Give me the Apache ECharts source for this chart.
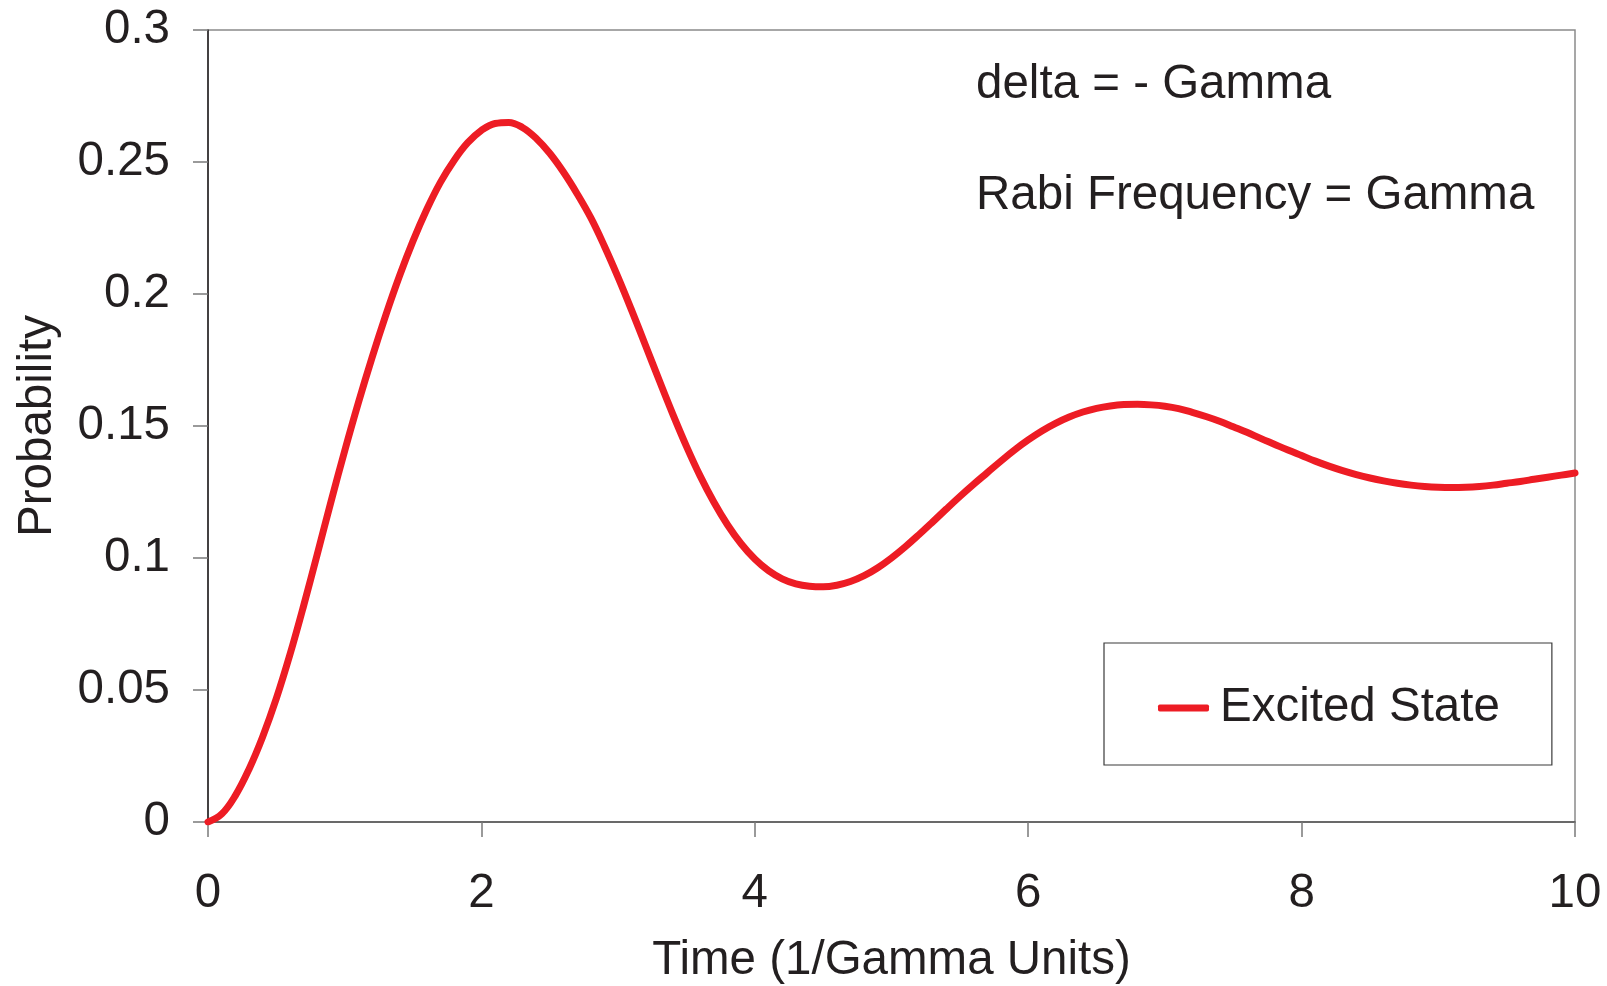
<!DOCTYPE html>
<html>
<head>
<meta charset="utf-8">
<title>Excited State Probability</title>
<script src="https://cdn.jsdelivr.net/npm/echarts@6/dist/echarts.min.js"></script>
<style>
  html, body { margin: 0; padding: 0; background: #ffffff; }
  #chart { width: 1607px; height: 986px; }
</style>
</head>
<body>
<div id="chart"></div>
<script>
// Time in units of 1/Gamma
const timeValues = [
  0.0, 0.1, 0.2, 0.3, 0.4, 0.5, 0.6, 0.7, 0.8, 0.9,
  1.0, 1.1, 1.2, 1.3, 1.4, 1.5, 1.6, 1.7, 1.8, 1.9,
  2.0, 2.1, 2.2, 2.3, 2.4, 2.5, 2.6, 2.7, 2.8, 2.9,
  3.0, 3.1, 3.2, 3.3, 3.4, 3.5, 3.6, 3.7, 3.8, 3.9,
  4.0, 4.1, 4.2, 4.3, 4.4, 4.5, 4.6, 4.7, 4.8, 4.9,
  5.0, 5.1, 5.2, 5.3, 5.4, 5.5, 5.6, 5.7, 5.8, 5.9,
  6.0, 6.1, 6.2, 6.3, 6.4, 6.5, 6.6, 6.7, 6.8, 6.9,
  7.0, 7.1, 7.2, 7.3, 7.4, 7.5, 7.6, 7.7, 7.8, 7.9,
  8.0, 8.1, 8.2, 8.3, 8.4, 8.5, 8.6, 8.7, 8.8, 8.9,
  9.0, 9.1, 9.2, 9.3, 9.4, 9.5, 9.6, 9.7, 9.8, 9.9,
  10.0
];

// Excited state population
const excitedState = [
  0.0000, 0.0030, 0.0100, 0.0200, 0.0323, 0.0468, 0.0635, 0.0820, 0.1016, 0.1214,
  0.1406, 0.1588, 0.1759, 0.1919, 0.2067, 0.2201, 0.2320, 0.2423, 0.2506, 0.2573,
  0.2620, 0.2646, 0.2650, 0.2631, 0.2590, 0.2533, 0.2462, 0.2380, 0.2289, 0.2181,
  0.2063, 0.1937, 0.1806, 0.1674, 0.1545, 0.1423, 0.1311, 0.1212, 0.1126, 0.1054,
  0.0996, 0.0952, 0.0921, 0.0902, 0.0893, 0.0891, 0.0897, 0.0911, 0.0933, 0.0963,
  0.1000, 0.1042, 0.1088, 0.1136, 0.1185, 0.1233, 0.1279, 0.1323, 0.1367, 0.1409,
  0.1447, 0.1481, 0.1510, 0.1534, 0.1553, 0.1567, 0.1576, 0.1581, 0.1582, 0.1580,
  0.1575, 0.1566, 0.1552, 0.1536, 0.1518, 0.1497, 0.1476, 0.1453, 0.1431, 0.1409,
  0.1388, 0.1367, 0.1348, 0.1331, 0.1316, 0.1303, 0.1292, 0.1283, 0.1276, 0.1271,
  0.1268, 0.1267, 0.1268, 0.1271, 0.1276, 0.1283, 0.1290, 0.1298, 0.1306, 0.1314,
  0.1322
];

const xTicks = [0, 2, 4, 6, 8, 10];
const yTicks = [0, 0.05, 0.1, 0.15, 0.2, 0.25, 0.3];

const seriesName = 'Excited State';
const xTitle = 'Time (1/Gamma Units)';
const yTitle = 'Probability';
const noteLines = ['delta = - Gamma', 'Rabi Frequency = Gamma'];

const FONT = '"Liberation Sans", Arial, Helvetica, sans-serif';
const TEXT = '#231f20';
const RED = '#ed1c24';

const chart = echarts.init(document.getElementById('chart'), null, { renderer: 'canvas' });

const points = timeValues.map((t, i) => [t, excitedState[i]]);

chart.setOption({
  animation: false,
  backgroundColor: '#ffffff',
  textStyle: { fontFamily: FONT, color: TEXT },
  grid: {
    left: 208, right: 32, top: 30, bottom: 164,
    containLabel: false,
    outerBoundsMode: 'none',
    show: true, borderColor: '#8a8a8a', borderWidth: 1.5,
    backgroundColor: 'transparent'
  },
  xAxis: {
    type: 'value',
    min: xTicks[0], max: xTicks[xTicks.length - 1], interval: 2,
    name: xTitle, nameLocation: 'middle', nameGap: 115,
    nameTextStyle: { fontSize: 47.5, color: TEXT, fontFamily: FONT },
    axisLine: { show: true, lineStyle: { color: '#555555', width: 1.5 } },
    axisTick: { show: true, inside: false, length: 15, lineStyle: { color: '#7a7a7a', width: 1.5 } },
    axisLabel: { fontSize: 47.5, color: TEXT, fontFamily: FONT, margin: 48 },
    splitLine: { show: false }
  },
  yAxis: {
    type: 'value',
    min: yTicks[0], max: yTicks[yTicks.length - 1], interval: 0.05,
    name: yTitle, nameLocation: 'middle', nameGap: 146, nameRotate: 90,
    nameTextStyle: { fontSize: 47.5, color: TEXT, fontFamily: FONT },
    axisLine: { show: true, lineStyle: { color: '#231f20', width: 1.5 } },
    axisTick: { show: true, inside: false, length: 15, lineStyle: { color: '#7a7a7a', width: 1.5 } },
    axisLabel: {
      fontSize: 47.5, color: TEXT, fontFamily: FONT, margin: 38,
      formatter: v => String(Math.round(v * 100) / 100)
    },
    splitLine: { show: false }
  },
  legend: {
    data: [seriesName],
    left: 1104, top: 643,
    orient: 'vertical',
    icon: 'roundRect',
    itemWidth: 51, itemHeight: 7,
    padding: [41, 52, 33, 54],
    borderColor: '#3a3a3a', borderWidth: 1.2,
    backgroundColor: '#ffffff',
    textStyle: { fontSize: 47.5, color: TEXT, fontFamily: FONT, padding: [0, 0, 0, 6] }
  },
  graphic: [
    {
      type: 'text', x: 976, y: 85,
      style: { text: noteLines[0], font: '47.5px ' + FONT, fill: TEXT, align: 'left', verticalAlign: 'middle' }
    },
    {
      type: 'text', x: 976, y: 196,
      style: { text: noteLines[1], font: '47.5px ' + FONT, fill: TEXT, align: 'left', verticalAlign: 'middle' }
    }
  ],
  series: [
    {
      name: seriesName,
      type: 'line',
      data: points,
      smooth: 0.4,
      showSymbol: false,
      symbol: 'none',
      clip: true,
      lineStyle: { color: RED, width: 7, cap: 'round', join: 'round' },
      itemStyle: { color: RED }
    }
  ]
});
</script>
</body>
</html>
